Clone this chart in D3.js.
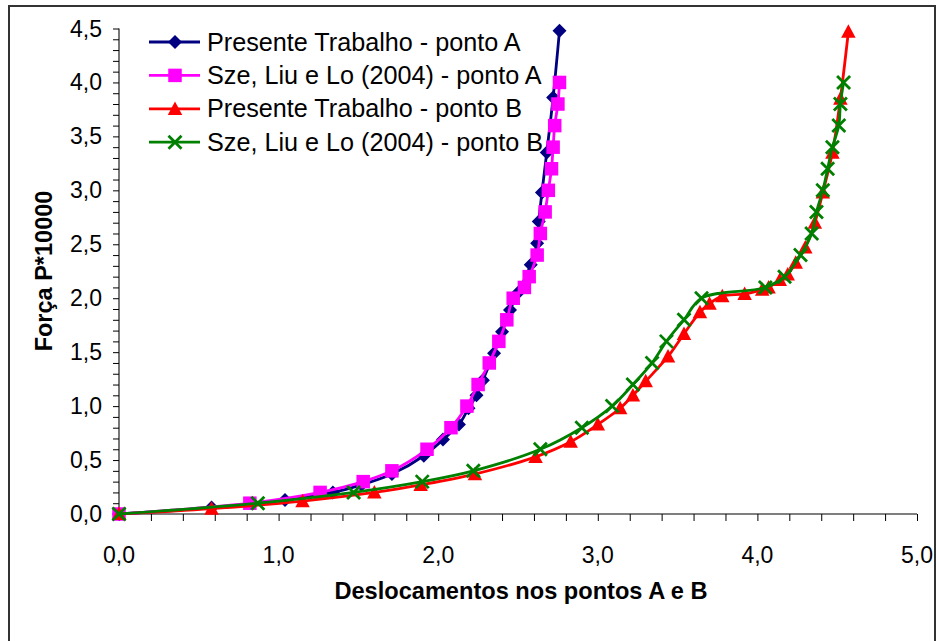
<!DOCTYPE html>
<html><head><meta charset="utf-8">
<script src="https://cdn.jsdelivr.net/npm/d3@7"></script>
<style>html,body{margin:0;padding:0;background:#fff;}svg{display:block;}</style>
</head><body>
<svg id="chart" width="936" height="641"></svg>
<script>
// ---- Data ----
const ptA_x = [0, 0.58, 1.04, 1.34, 1.52, 1.71, 1.91, 2.03, 2.13, 2.19, 2.24, 2.28, 2.35, 2.40, 2.45, 2.50, 2.58, 2.62, 2.63, 2.65, 2.68, 2.72, 2.76];
const ptA_y = [0, 0.06, 0.13, 0.20, 0.27, 0.37, 0.54, 0.69, 0.83, 0.98, 1.10, 1.24, 1.49, 1.69, 1.89, 2.05, 2.31, 2.51, 2.71, 2.98, 3.35, 3.86, 4.48];
const szeA_x = [0, 0.82, 1.26, 1.53, 1.71, 1.93, 2.08, 2.18, 2.25, 2.32, 2.38, 2.43, 2.47, 2.54, 2.57, 2.62, 2.64, 2.67, 2.69, 2.71, 2.72, 2.73, 2.75, 2.76];
const szeA_y = [0, 0.1, 0.2, 0.3, 0.4, 0.6, 0.8, 1.0, 1.2, 1.4, 1.6, 1.8, 2.0, 2.1, 2.2, 2.4, 2.6, 2.8, 3.0, 3.2, 3.4, 3.6, 3.8, 4.0];
const ptB_x = [0, 0.58, 1.15, 1.60, 1.89, 2.23, 2.61, 2.83, 3.00, 3.14, 3.22, 3.30, 3.44, 3.54, 3.64, 3.70, 3.78, 3.92, 4.03, 4.07, 4.14, 4.19, 4.24, 4.30, 4.36, 4.41, 4.47, 4.52, 4.57];
const ptB_y = [0, 0.05, 0.12, 0.20, 0.27, 0.37, 0.53, 0.67, 0.83, 0.98, 1.10, 1.23, 1.46, 1.67, 1.87, 1.95, 2.02, 2.04, 2.08, 2.10, 2.17, 2.22, 2.33, 2.47, 2.70, 2.98, 3.35, 3.85, 4.47];
const szeB_x = [0, 0.87, 1.47, 1.90, 2.22, 2.64, 2.90, 3.09, 3.22, 3.34, 3.43, 3.54, 3.65, 4.05, 4.17, 4.27, 4.34, 4.37, 4.41, 4.44, 4.47, 4.51, 4.52, 4.54];
const szeB_y = [0, 0.1, 0.2, 0.3, 0.4, 0.6, 0.8, 1.0, 1.2, 1.4, 1.6, 1.8, 2.0, 2.1, 2.2, 2.4, 2.6, 2.8, 3.0, 3.2, 3.4, 3.6, 3.8, 4.0];

const seriesNames = ["Presente Trabalho - ponto A", "Sze, Liu e Lo (2004) - ponto A", "Presente Trabalho - ponto B", "Sze, Liu e Lo (2004) - ponto B"];
const xTicks = [0, 1, 2, 3, 4, 5];
const yTicks = [0, 0.5, 1.0, 1.5, 2.0, 2.5, 3.0, 3.5, 4.0, 4.5];
const xTitle = "Deslocamentos nos pontos A e B";
const yTitle = "Força P*10000";

// ---- Layout ----
const svg = d3.select("#chart");
const font = "'Liberation Sans', Arial, sans-serif";
const x = d3.scaleLinear().domain([0, 5]).range([119, 917]);
const y = d3.scaleLinear().domain([0, 4.5]).range([514, 28.5]);

const series = [
  {name: seriesNames[0], xs: ptA_x, ys: ptA_y, color: "#000080", marker: "diamond"},
  {name: seriesNames[1], xs: szeA_x, ys: szeA_y, color: "#FF00FF", marker: "square"},
  {name: seriesNames[2], xs: ptB_x, ys: ptB_y, color: "#FF0000", marker: "triangle"},
  {name: seriesNames[3], xs: szeB_x, ys: szeB_y, color: "#008000", marker: "x"}
];

// outer frame
svg.append("rect").attr("x", 9).attr("y", 6).attr("width", 926).attr("height", 660)
  .attr("fill", "none").attr("stroke", "#333").attr("stroke-width", 2);

// axes
const fmt = d => d3.format(".1f")(d).replace(".", ",");
const xAxisMinor = d3.axisBottom(x).tickValues(d3.range(0, 5.0001, 0.2)).tickSize(7).tickFormat("");
const yAxisMinor = d3.axisLeft(y).tickValues(d3.range(0, 4.5001, 0.1)).tickSize(6).tickFormat("");

const gx = svg.append("g").attr("transform", `translate(0,${y(0)})`).call(xAxisMinor);
const gy = svg.append("g").attr("transform", `translate(${x(0)},0)`).call(yAxisMinor);
[gx, gy].forEach(g => {
  g.select(".domain").attr("stroke", "#555").attr("stroke-width", 1.6);
  g.selectAll(".tick line").attr("stroke", "#000").attr("stroke-width", 1);
});
gx.select(".domain").attr("d", `M${x(0)},0H${x(5)}`);
gy.select(".domain").attr("d", `M0,${y(0)}V${y(4.5)}`);

// tick labels
svg.append("g").selectAll("text").data(xTicks).join("text")
  .attr("x", d => x(d)).attr("y", 563).attr("text-anchor", "middle")
  .attr("font-family", font).attr("font-size", 23).attr("fill", "#000").text(fmt);
svg.append("g").selectAll("text").data(yTicks).join("text")
  .attr("x", 102).attr("y", d => y(d)).attr("dy", "0.35em").attr("text-anchor", "end")
  .attr("font-family", font).attr("font-size", 23).attr("fill", "#000").text(fmt);

// axis titles
svg.append("text").attr("x", 521).attr("y", 599).attr("text-anchor", "middle")
  .attr("font-family", font).attr("font-size", 23.6).attr("font-weight", "bold").text(xTitle);
svg.append("text").attr("transform", `translate(52,271) rotate(-90)`).attr("text-anchor", "middle")
  .attr("font-family", font).attr("font-size", 23.5).attr("font-weight", "bold").text(yTitle);

// markers
function drawMarker(g, type, cx, cy, color) {
  if (type === "diamond") {
    const r = 7;
    g.append("path").attr("d", `M${cx},${cy-r}L${cx+r},${cy}L${cx},${cy+r}L${cx-r},${cy}Z`).attr("fill", color);
  } else if (type === "square") {
    const s = 13.5;
    g.append("rect").attr("x", cx - s/2).attr("y", cy - s/2).attr("width", s).attr("height", s).attr("fill", color);
  } else if (type === "triangle") {
    const w = 14.5, h = 13.5;
    g.append("path").attr("d", `M${cx},${cy-h*0.55}L${cx+w/2},${cy+h*0.45}L${cx-w/2},${cy+h*0.45}Z`).attr("fill", color);
  } else if (type === "x") {
    const r = 6.5;
    g.append("path").attr("d", `M${cx-r},${cy-r}L${cx+r},${cy+r}M${cx-r},${cy+r}L${cx+r},${cy-r}`)
      .attr("stroke", color).attr("stroke-width", 2.8).attr("fill", "none");
  }
}

const line = d3.line().x(d => x(d[0])).y(d => y(d[1])).curve(d3.curveCatmullRom.alpha(0.5));
series.forEach(s => {
  const pts = s.xs.map((v, i) => [v, s.ys[i]]);
  const g = svg.append("g");
  g.append("path").attr("d", line(pts)).attr("fill", "none").attr("stroke", s.color).attr("stroke-width", 2.8);
  pts.forEach(p => drawMarker(g, s.marker, x(p[0]), y(p[1]), s.color));
});

// legend
const leg = svg.append("g");
series.forEach((s, i) => {
  const cy = 42 + i * 33.4;
  leg.append("line").attr("x1", 149).attr("x2", 200).attr("y1", cy).attr("y2", cy)
    .attr("stroke", s.color).attr("stroke-width", 2.8);
  drawMarker(leg, s.marker, 175, cy, s.color);
  leg.append("text").attr("x", 207).attr("y", cy + 8.5).attr("font-family", font)
    .attr("font-size", 25.2).attr("fill", "#000").text(s.name);
});
</script>
</body></html>
